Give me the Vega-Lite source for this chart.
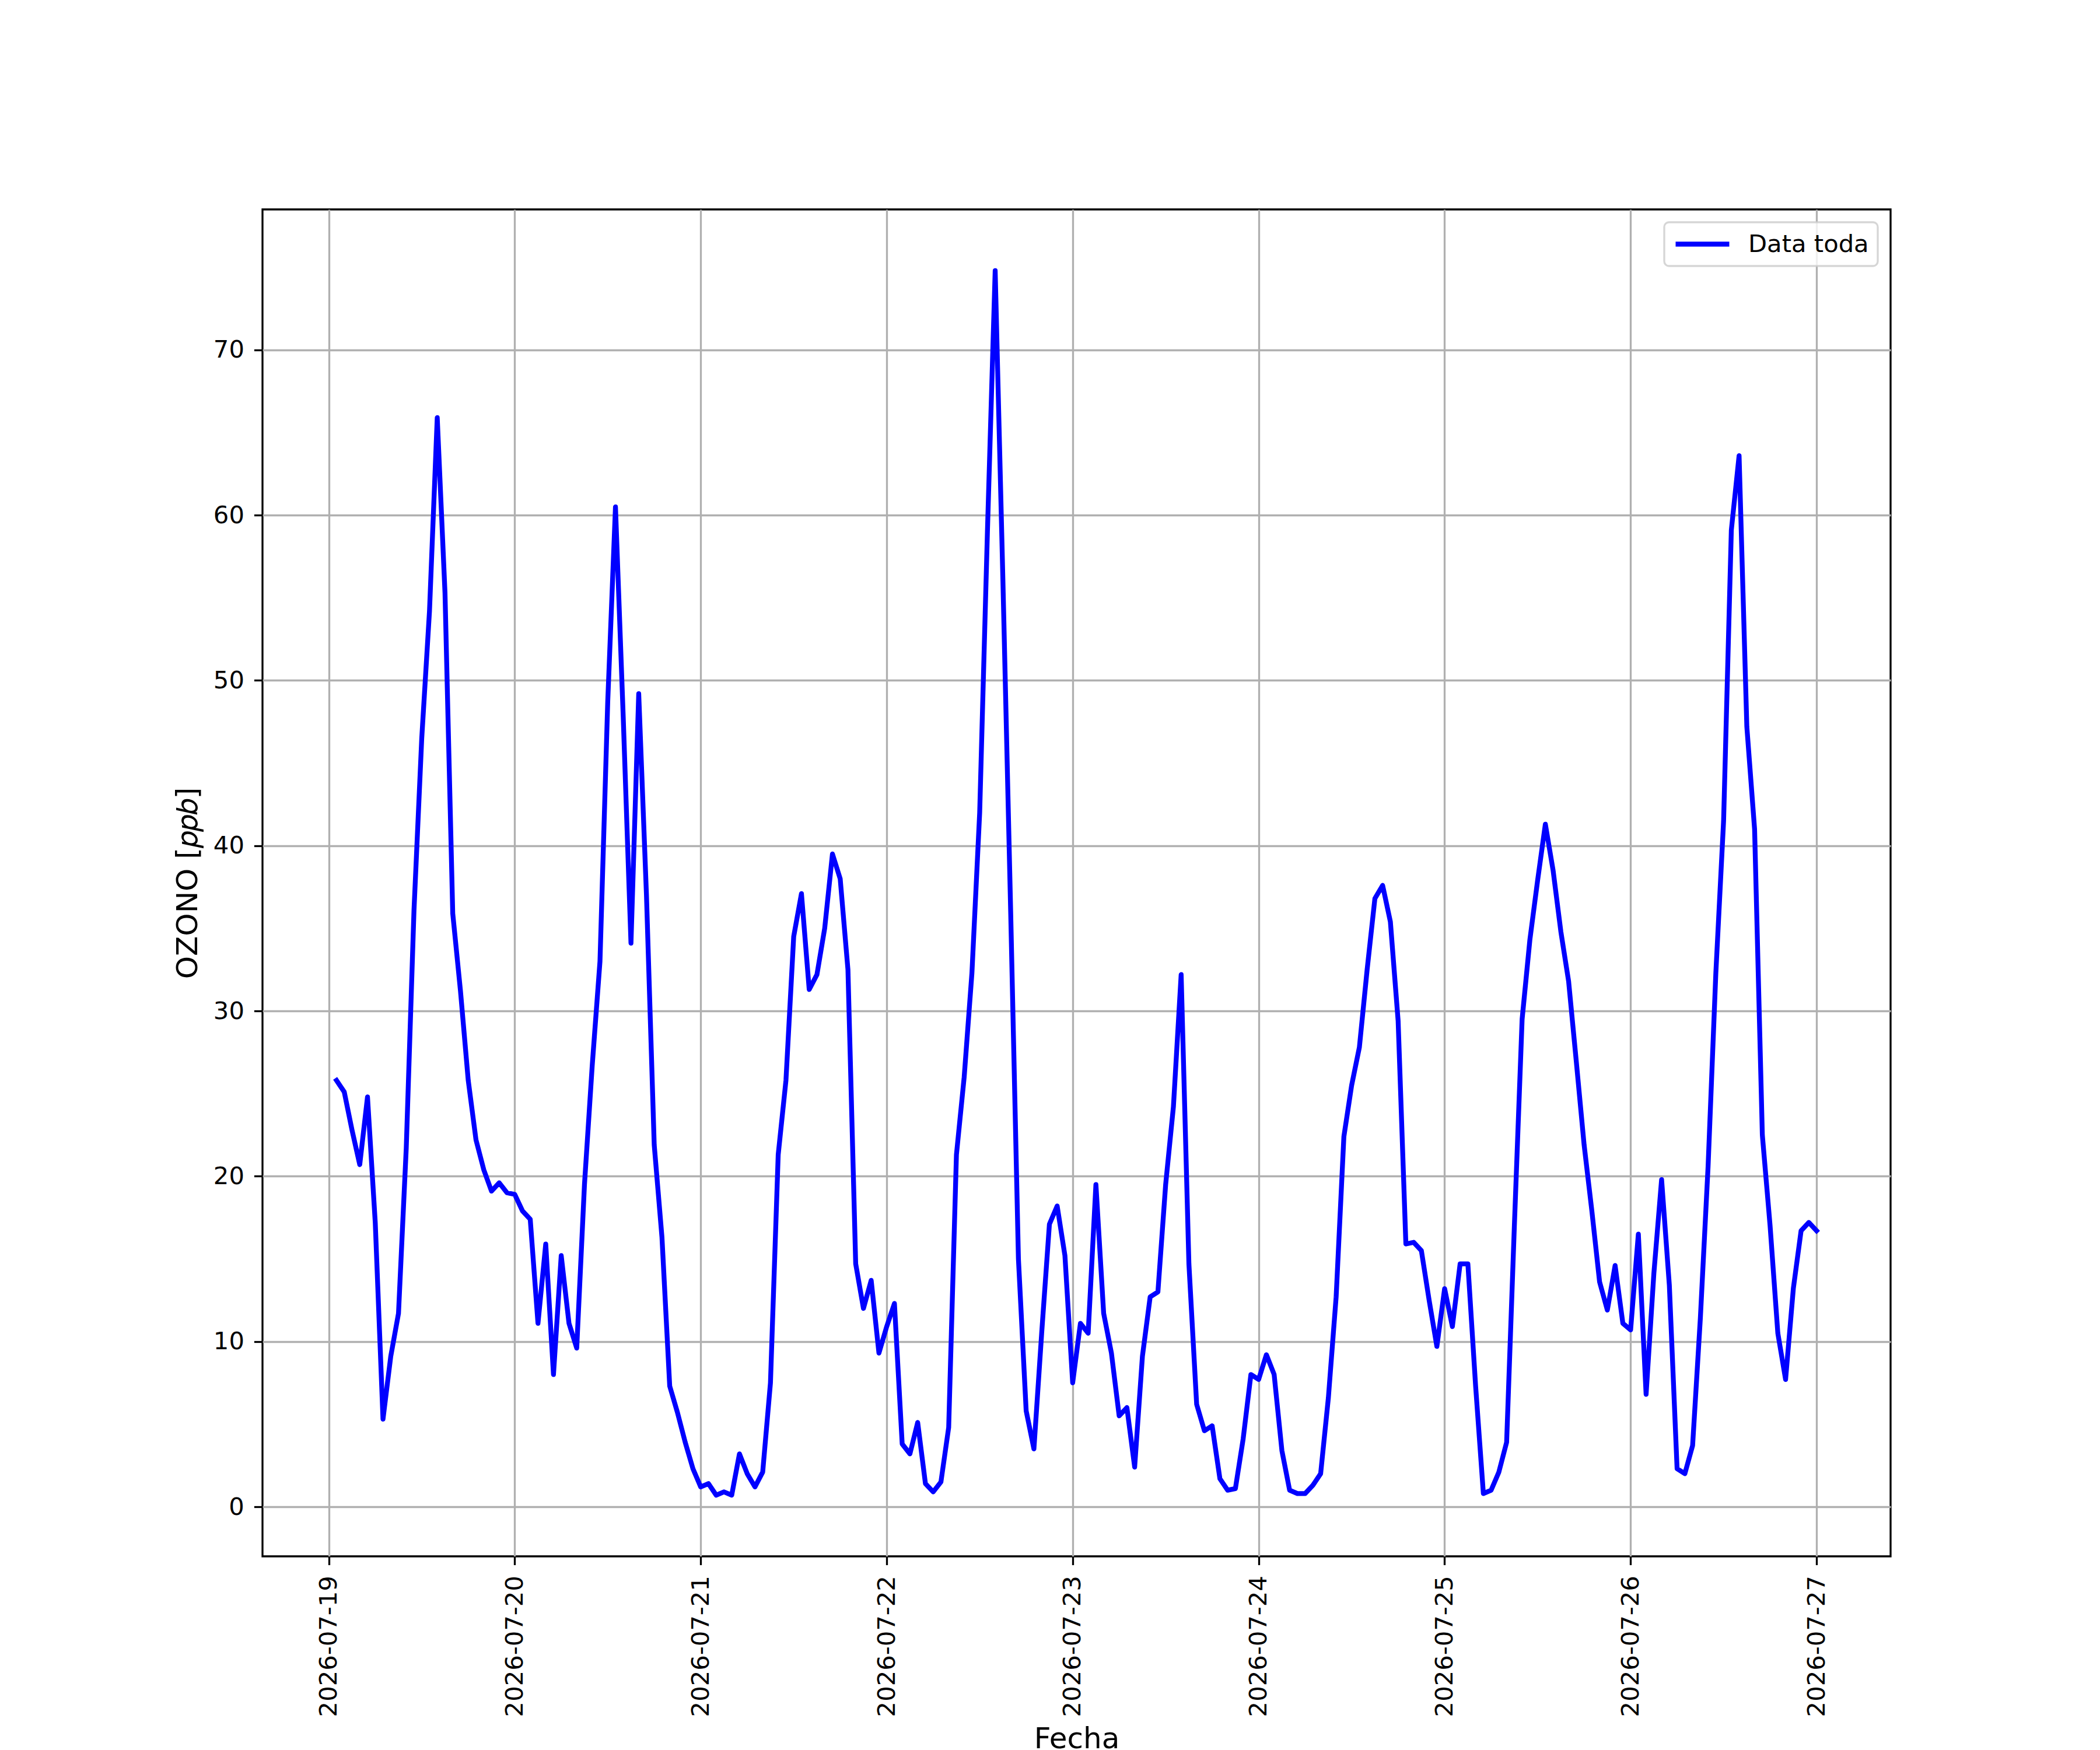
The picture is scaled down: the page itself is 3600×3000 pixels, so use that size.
{
  "$schema": "https://vega.github.io/schema/vega-lite/v6.json",
  "autosize": {"type": "none"},
  "padding": {"left": 450, "top": 359, "right": 359, "bottom": 332},
  "width": 2791,
  "height": 2309,
  "background": "white",
  "data": {
    "values": [
      {"t": "2026-07-19T01:00:00", "o3": 25.8},
      {"t": "2026-07-19T02:00:00", "o3": 25.1},
      {"t": "2026-07-19T03:00:00", "o3": 22.8},
      {"t": "2026-07-19T04:00:00", "o3": 20.7},
      {"t": "2026-07-19T05:00:00", "o3": 24.8},
      {"t": "2026-07-19T06:00:00", "o3": 17.2},
      {"t": "2026-07-19T07:00:00", "o3": 5.3},
      {"t": "2026-07-19T08:00:00", "o3": 9.1},
      {"t": "2026-07-19T09:00:00", "o3": 11.7},
      {"t": "2026-07-19T10:00:00", "o3": 21.7},
      {"t": "2026-07-19T11:00:00", "o3": 36.1},
      {"t": "2026-07-19T12:00:00", "o3": 46.5},
      {"t": "2026-07-19T13:00:00", "o3": 54.2},
      {"t": "2026-07-19T14:00:00", "o3": 65.9},
      {"t": "2026-07-19T15:00:00", "o3": 55.3},
      {"t": "2026-07-19T16:00:00", "o3": 35.9},
      {"t": "2026-07-19T17:00:00", "o3": 31.2},
      {"t": "2026-07-19T18:00:00", "o3": 25.8},
      {"t": "2026-07-19T19:00:00", "o3": 22.2},
      {"t": "2026-07-19T20:00:00", "o3": 20.4},
      {"t": "2026-07-19T21:00:00", "o3": 19.1},
      {"t": "2026-07-19T22:00:00", "o3": 19.6},
      {"t": "2026-07-19T23:00:00", "o3": 19.0},
      {"t": "2026-07-20T00:00:00", "o3": 18.9},
      {"t": "2026-07-20T01:00:00", "o3": 17.9},
      {"t": "2026-07-20T02:00:00", "o3": 17.4},
      {"t": "2026-07-20T03:00:00", "o3": 11.1},
      {"t": "2026-07-20T04:00:00", "o3": 15.9},
      {"t": "2026-07-20T05:00:00", "o3": 8.0},
      {"t": "2026-07-20T06:00:00", "o3": 15.2},
      {"t": "2026-07-20T07:00:00", "o3": 11.1},
      {"t": "2026-07-20T08:00:00", "o3": 9.6},
      {"t": "2026-07-20T09:00:00", "o3": 19.5},
      {"t": "2026-07-20T10:00:00", "o3": 26.7},
      {"t": "2026-07-20T11:00:00", "o3": 33.0},
      {"t": "2026-07-20T12:00:00", "o3": 48.7},
      {"t": "2026-07-20T13:00:00", "o3": 60.5},
      {"t": "2026-07-20T14:00:00", "o3": 47.8},
      {"t": "2026-07-20T15:00:00", "o3": 34.1},
      {"t": "2026-07-20T16:00:00", "o3": 49.2},
      {"t": "2026-07-20T17:00:00", "o3": 37.0},
      {"t": "2026-07-20T18:00:00", "o3": 21.9},
      {"t": "2026-07-20T19:00:00", "o3": 16.3},
      {"t": "2026-07-20T20:00:00", "o3": 7.3},
      {"t": "2026-07-20T21:00:00", "o3": 5.7},
      {"t": "2026-07-20T22:00:00", "o3": 3.9},
      {"t": "2026-07-20T23:00:00", "o3": 2.3},
      {"t": "2026-07-21T00:00:00", "o3": 1.2},
      {"t": "2026-07-21T01:00:00", "o3": 1.4},
      {"t": "2026-07-21T02:00:00", "o3": 0.7},
      {"t": "2026-07-21T03:00:00", "o3": 0.9},
      {"t": "2026-07-21T04:00:00", "o3": 0.7},
      {"t": "2026-07-21T05:00:00", "o3": 3.2},
      {"t": "2026-07-21T06:00:00", "o3": 2.0},
      {"t": "2026-07-21T07:00:00", "o3": 1.2},
      {"t": "2026-07-21T08:00:00", "o3": 2.1},
      {"t": "2026-07-21T09:00:00", "o3": 7.5},
      {"t": "2026-07-21T10:00:00", "o3": 21.3},
      {"t": "2026-07-21T11:00:00", "o3": 25.8},
      {"t": "2026-07-21T12:00:00", "o3": 34.5},
      {"t": "2026-07-21T13:00:00", "o3": 37.1},
      {"t": "2026-07-21T14:00:00", "o3": 31.3},
      {"t": "2026-07-21T15:00:00", "o3": 32.2},
      {"t": "2026-07-21T16:00:00", "o3": 35.0},
      {"t": "2026-07-21T17:00:00", "o3": 39.5},
      {"t": "2026-07-21T18:00:00", "o3": 38.0},
      {"t": "2026-07-21T19:00:00", "o3": 32.5},
      {"t": "2026-07-21T20:00:00", "o3": 14.7},
      {"t": "2026-07-21T21:00:00", "o3": 12.0},
      {"t": "2026-07-21T22:00:00", "o3": 13.7},
      {"t": "2026-07-21T23:00:00", "o3": 9.3},
      {"t": "2026-07-22T00:00:00", "o3": 10.9},
      {"t": "2026-07-22T01:00:00", "o3": 12.3},
      {"t": "2026-07-22T02:00:00", "o3": 3.8},
      {"t": "2026-07-22T03:00:00", "o3": 3.2},
      {"t": "2026-07-22T04:00:00", "o3": 5.1},
      {"t": "2026-07-22T05:00:00", "o3": 1.4},
      {"t": "2026-07-22T06:00:00", "o3": 0.9},
      {"t": "2026-07-22T07:00:00", "o3": 1.5},
      {"t": "2026-07-22T08:00:00", "o3": 4.8},
      {"t": "2026-07-22T09:00:00", "o3": 21.3},
      {"t": "2026-07-22T10:00:00", "o3": 26.0},
      {"t": "2026-07-22T11:00:00", "o3": 32.3},
      {"t": "2026-07-22T12:00:00", "o3": 42.0},
      {"t": "2026-07-22T13:00:00", "o3": 59.0},
      {"t": "2026-07-22T14:00:00", "o3": 74.8},
      {"t": "2026-07-22T15:00:00", "o3": 56.0},
      {"t": "2026-07-22T16:00:00", "o3": 36.0},
      {"t": "2026-07-22T17:00:00", "o3": 15.0},
      {"t": "2026-07-22T18:00:00", "o3": 5.8},
      {"t": "2026-07-22T19:00:00", "o3": 3.5},
      {"t": "2026-07-22T20:00:00", "o3": 10.5},
      {"t": "2026-07-22T21:00:00", "o3": 17.1},
      {"t": "2026-07-22T22:00:00", "o3": 18.2},
      {"t": "2026-07-22T23:00:00", "o3": 15.2},
      {"t": "2026-07-23T00:00:00", "o3": 7.5},
      {"t": "2026-07-23T01:00:00", "o3": 11.1},
      {"t": "2026-07-23T02:00:00", "o3": 10.5},
      {"t": "2026-07-23T03:00:00", "o3": 19.5},
      {"t": "2026-07-23T04:00:00", "o3": 11.7},
      {"t": "2026-07-23T05:00:00", "o3": 9.3},
      {"t": "2026-07-23T06:00:00", "o3": 5.5},
      {"t": "2026-07-23T07:00:00", "o3": 6.0},
      {"t": "2026-07-23T08:00:00", "o3": 2.4},
      {"t": "2026-07-23T09:00:00", "o3": 9.1},
      {"t": "2026-07-23T10:00:00", "o3": 12.7},
      {"t": "2026-07-23T11:00:00", "o3": 13.0},
      {"t": "2026-07-23T12:00:00", "o3": 19.5},
      {"t": "2026-07-23T13:00:00", "o3": 24.2},
      {"t": "2026-07-23T14:00:00", "o3": 32.2},
      {"t": "2026-07-23T15:00:00", "o3": 14.7},
      {"t": "2026-07-23T16:00:00", "o3": 6.2},
      {"t": "2026-07-23T17:00:00", "o3": 4.6},
      {"t": "2026-07-23T18:00:00", "o3": 4.9},
      {"t": "2026-07-23T19:00:00", "o3": 1.7},
      {"t": "2026-07-23T20:00:00", "o3": 1.0},
      {"t": "2026-07-23T21:00:00", "o3": 1.1},
      {"t": "2026-07-23T22:00:00", "o3": 4.1},
      {"t": "2026-07-23T23:00:00", "o3": 8.0},
      {"t": "2026-07-24T00:00:00", "o3": 7.7},
      {"t": "2026-07-24T01:00:00", "o3": 9.2},
      {"t": "2026-07-24T02:00:00", "o3": 8.0},
      {"t": "2026-07-24T03:00:00", "o3": 3.4},
      {"t": "2026-07-24T04:00:00", "o3": 1.0},
      {"t": "2026-07-24T05:00:00", "o3": 0.8},
      {"t": "2026-07-24T06:00:00", "o3": 0.8},
      {"t": "2026-07-24T07:00:00", "o3": 1.3},
      {"t": "2026-07-24T08:00:00", "o3": 2.0},
      {"t": "2026-07-24T09:00:00", "o3": 6.6},
      {"t": "2026-07-24T10:00:00", "o3": 12.7},
      {"t": "2026-07-24T11:00:00", "o3": 22.4},
      {"t": "2026-07-24T12:00:00", "o3": 25.5},
      {"t": "2026-07-24T13:00:00", "o3": 27.8},
      {"t": "2026-07-24T14:00:00", "o3": 32.5},
      {"t": "2026-07-24T15:00:00", "o3": 36.8},
      {"t": "2026-07-24T16:00:00", "o3": 37.6},
      {"t": "2026-07-24T17:00:00", "o3": 35.4},
      {"t": "2026-07-24T18:00:00", "o3": 29.4},
      {"t": "2026-07-24T19:00:00", "o3": 15.9},
      {"t": "2026-07-24T20:00:00", "o3": 16.0},
      {"t": "2026-07-24T21:00:00", "o3": 15.5},
      {"t": "2026-07-24T22:00:00", "o3": 12.5},
      {"t": "2026-07-24T23:00:00", "o3": 9.7},
      {"t": "2026-07-25T00:00:00", "o3": 13.2},
      {"t": "2026-07-25T01:00:00", "o3": 10.9},
      {"t": "2026-07-25T02:00:00", "o3": 14.7},
      {"t": "2026-07-25T03:00:00", "o3": 14.7},
      {"t": "2026-07-25T04:00:00", "o3": 7.3},
      {"t": "2026-07-25T05:00:00", "o3": 0.8},
      {"t": "2026-07-25T06:00:00", "o3": 1.0},
      {"t": "2026-07-25T07:00:00", "o3": 2.1},
      {"t": "2026-07-25T08:00:00", "o3": 3.9},
      {"t": "2026-07-25T09:00:00", "o3": 17.0},
      {"t": "2026-07-25T10:00:00", "o3": 29.5},
      {"t": "2026-07-25T11:00:00", "o3": 34.3},
      {"t": "2026-07-25T12:00:00", "o3": 37.9},
      {"t": "2026-07-25T13:00:00", "o3": 41.3},
      {"t": "2026-07-25T14:00:00", "o3": 38.5},
      {"t": "2026-07-25T15:00:00", "o3": 34.8},
      {"t": "2026-07-25T16:00:00", "o3": 31.8},
      {"t": "2026-07-25T17:00:00", "o3": 26.9},
      {"t": "2026-07-25T18:00:00", "o3": 21.9},
      {"t": "2026-07-25T19:00:00", "o3": 17.9},
      {"t": "2026-07-25T20:00:00", "o3": 13.6},
      {"t": "2026-07-25T21:00:00", "o3": 11.9},
      {"t": "2026-07-25T22:00:00", "o3": 14.6},
      {"t": "2026-07-25T23:00:00", "o3": 11.1},
      {"t": "2026-07-26T00:00:00", "o3": 10.7},
      {"t": "2026-07-26T01:00:00", "o3": 16.5},
      {"t": "2026-07-26T02:00:00", "o3": 6.8},
      {"t": "2026-07-26T03:00:00", "o3": 14.1},
      {"t": "2026-07-26T04:00:00", "o3": 19.8},
      {"t": "2026-07-26T05:00:00", "o3": 13.4},
      {"t": "2026-07-26T06:00:00", "o3": 2.3},
      {"t": "2026-07-26T07:00:00", "o3": 2.0},
      {"t": "2026-07-26T08:00:00", "o3": 3.7},
      {"t": "2026-07-26T09:00:00", "o3": 11.4},
      {"t": "2026-07-26T10:00:00", "o3": 20.6},
      {"t": "2026-07-26T11:00:00", "o3": 32.3},
      {"t": "2026-07-26T12:00:00", "o3": 41.5},
      {"t": "2026-07-26T13:00:00", "o3": 59.1},
      {"t": "2026-07-26T14:00:00", "o3": 63.6},
      {"t": "2026-07-26T15:00:00", "o3": 47.2},
      {"t": "2026-07-26T16:00:00", "o3": 41.0},
      {"t": "2026-07-26T17:00:00", "o3": 22.5},
      {"t": "2026-07-26T18:00:00", "o3": 17.0},
      {"t": "2026-07-26T19:00:00", "o3": 10.5},
      {"t": "2026-07-26T20:00:00", "o3": 7.7},
      {"t": "2026-07-26T21:00:00", "o3": 13.2},
      {"t": "2026-07-26T22:00:00", "o3": 16.7},
      {"t": "2026-07-26T23:00:00", "o3": 17.2},
      {"t": "2026-07-27T00:00:00", "o3": 16.7}
    ]
  },
  "mark": {"type": "line", "strokeWidth": 8.3, "strokeJoin": "round", "strokeCap": "square"},
  "encoding": {
    "x": {
      "field": "t",
      "type": "temporal",
      "scale": {
        "domain": [
          {"year": 2026, "month": 7, "date": 18, "hours": 15, "minutes": 27},
          {"year": 2026, "month": 7, "date": 27, "hours": 9, "minutes": 33}
        ],
        "nice": false
      },
      "axis": {
        "title": "Fecha",
        "format": "%Y-%m-%d",
        "tickCount": {"interval": "day", "step": 1},
        "labelAngle": 270,
        "labelPadding": 18,
        "titleY": 328,
        "titleBaseline": "alphabetic"
      }
    },
    "y": {
      "field": "o3",
      "type": "quantitative",
      "scale": {"domain": [-3.0, 78.5], "nice": false, "zero": false},
      "axis": {
        "title": "OZONO [𝑝𝑝𝑏]",
        "values": [0, 10, 20, 30, 40, 50, 60, 70],
        "labelPadding": 17,
        "titlePadding": 18
      }
    },
    "color": {
      "datum": "Data toda",
      "scale": {"range": ["#0000ff"]},
      "legend": {"title": null, "orient": "top-right", "offset": 22}
    }
  },
  "config": {
    "font": "DejaVu Sans",
    "view": {"stroke": "black", "strokeWidth": 3.3},
    "axis": {
      "domain": false,
      "grid": true,
      "gridColor": "#b0b0b0",
      "gridWidth": 3.3,
      "tickColor": "black",
      "tickWidth": 3.3,
      "tickSize": 14.6,
      "labelFont": "DejaVu Sans",
      "labelFontSize": 41.7,
      "labelColor": "black",
      "labelLimit": 0,
      "labelOverlap": false,
      "labelFlush": false,
      "titleFont": "DejaVu Sans",
      "titleFontSize": 50,
      "titleFontWeight": "normal",
      "titleColor": "black",
      "titleLimit": 0
    },
    "legend": {
      "symbolType": "stroke",
      "symbolStrokeWidth": 8.3,
      "symbolSize": 8464,
      "clipHeight": 45,
      "labelFont": "DejaVu Sans",
      "labelFontSize": 41.7,
      "labelColor": "black",
      "labelLimit": 0,
      "labelOffset": 28,
      "padding": 15,
      "fillColor": "rgba(255,255,255,0.8)",
      "strokeColor": "rgba(204,204,204,0.8)",
      "strokeWidth": 3.3,
      "cornerRadius": 8
    }
  }
}
